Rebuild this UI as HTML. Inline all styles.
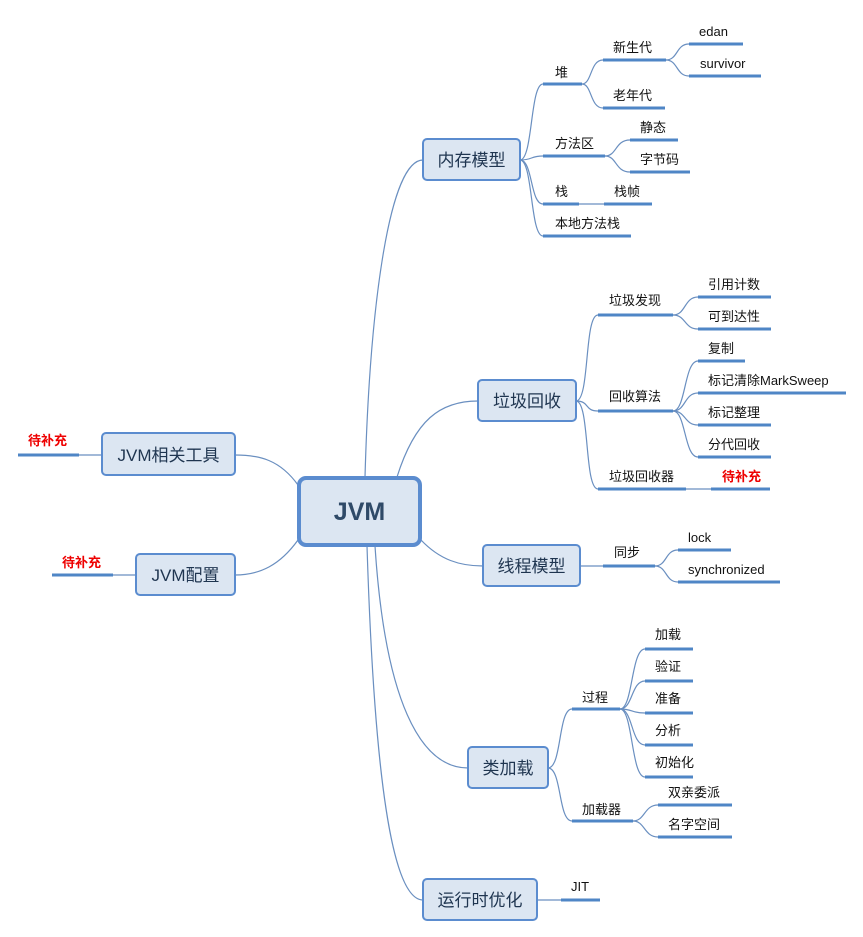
<!DOCTYPE html>
<html><head><meta charset="utf-8"><style>
body{margin:0;background:#fff;}
svg{display:block;font-family:"Liberation Sans","Noto Sans CJK SC",sans-serif;}
.c{fill:none;stroke:#6a8fc0;stroke-width:1.2}
.l{stroke:#4f86c6;stroke-width:3}
.t{font-size:13px;fill:#111}
.r{font-size:13px;fill:#e00;font-weight:bold}
.b{fill:#dce6f2;stroke:#5b8ccf;stroke-width:2}
.m{font-size:17px;fill:#1f3550;text-anchor:middle}
</style></head><body>
<svg width="863" height="937" viewBox="0 0 863 937">
<!-- main curves -->
<path class="c" d="M365 477 C370 300 390 160 423 160"/>
<path class="c" d="M397 477 C415 420 440 401 478 401"/>
<path class="c" d="M421 540 C440 560 460 566 483 566"/>
<path class="c" d="M375 546 C385 700 420 768 468 768"/>
<path class="c" d="M367 546 C375 800 395 900 423 900"/>
<path class="c" d="M298 485 C280 460 260 455 235 455"/>
<path class="c" d="M298 540 C280 565 260 575 235 575"/>
<path class="c" d="M102 455 L79 455"/>
<path class="c" d="M136 575 L113 575"/>
<!-- memory -->
<path class="c" d="M520 160 C533 160 530 84 543 84"/>
<path class="c" d="M520 160 C533 160 530 156 543 156"/>
<path class="c" d="M520 160 C533 160 530 204 543 204"/>
<path class="c" d="M520 160 C533 160 530 236 543 236"/>
<path class="c" d="M582 84 C592 84 590 60 603 60"/>
<path class="c" d="M582 84 C592 84 590 108 603 108"/>
<path class="c" d="M666 60 C678 60 676 44 689 44"/>
<path class="c" d="M666 60 C678 60 676 76 689 76"/>
<path class="c" d="M605 156 C617 156 615 140 630 140"/>
<path class="c" d="M605 156 C617 156 615 172 630 172"/>
<path class="c" d="M579 204 L604 204"/>
<!-- gc -->
<path class="c" d="M576 401 C590 401 584 315 598 315"/>
<path class="c" d="M576 401 C590 401 584 411 598 411"/>
<path class="c" d="M576 401 C590 401 584 489 598 489"/>
<path class="c" d="M673 315 C686 315 684 297 698 297"/>
<path class="c" d="M673 315 C686 315 684 329 698 329"/>
<path class="c" d="M673 411 C686 411 684 361 698 361"/>
<path class="c" d="M673 411 C686 411 684 393 698 393"/>
<path class="c" d="M673 411 C686 411 684 425 698 425"/>
<path class="c" d="M673 411 C686 411 684 457 698 457"/>
<path class="c" d="M686 489 L711 489"/>
<!-- thread -->
<path class="c" d="M580 566 L603 566"/>
<path class="c" d="M655 566 C667 566 665 550 678 550"/>
<path class="c" d="M655 566 C667 566 665 582 678 582"/>
<!-- class load -->
<path class="c" d="M548 768 C562 768 558 709 572 709"/>
<path class="c" d="M548 768 C562 768 558 821 572 821"/>
<path class="c" d="M620 709 C633 709 631 649 645 649"/>
<path class="c" d="M620 709 C633 709 631 681 645 681"/>
<path class="c" d="M620 709 C633 709 631 713 645 713"/>
<path class="c" d="M620 709 C633 709 631 745 645 745"/>
<path class="c" d="M620 709 C633 709 631 777 645 777"/>
<path class="c" d="M633 821 C645 821 644 805 658 805"/>
<path class="c" d="M633 821 C645 821 644 837 658 837"/>
<path class="c" d="M537 900 L561 900"/>

<!-- leaf lines -->
<g class="l">
<line x1="543" y1="84" x2="582" y2="84"/>
<line x1="603" y1="60" x2="666" y2="60"/>
<line x1="689" y1="44" x2="743" y2="44"/>
<line x1="689" y1="76" x2="761" y2="76"/>
<line x1="603" y1="108" x2="665" y2="108"/>
<line x1="543" y1="156" x2="605" y2="156"/>
<line x1="630" y1="140" x2="678" y2="140"/>
<line x1="630" y1="172" x2="690" y2="172"/>
<line x1="543" y1="204" x2="579" y2="204"/>
<line x1="604" y1="204" x2="652" y2="204"/>
<line x1="543" y1="236" x2="631" y2="236"/>
<line x1="598" y1="315" x2="673" y2="315"/>
<line x1="698" y1="297" x2="771" y2="297"/>
<line x1="698" y1="329" x2="771" y2="329"/>
<line x1="598" y1="411" x2="673" y2="411"/>
<line x1="698" y1="361" x2="745" y2="361"/>
<line x1="698" y1="393" x2="846" y2="393"/>
<line x1="698" y1="425" x2="771" y2="425"/>
<line x1="698" y1="457" x2="771" y2="457"/>
<line x1="598" y1="489" x2="686" y2="489"/>
<line x1="711" y1="489" x2="770" y2="489"/>
<line x1="603" y1="566" x2="655" y2="566"/>
<line x1="678" y1="550" x2="731" y2="550"/>
<line x1="678" y1="582" x2="780" y2="582"/>
<line x1="572" y1="709" x2="620" y2="709"/>
<line x1="645" y1="649" x2="693" y2="649"/>
<line x1="645" y1="681" x2="693" y2="681"/>
<line x1="645" y1="713" x2="693" y2="713"/>
<line x1="645" y1="745" x2="693" y2="745"/>
<line x1="645" y1="777" x2="693" y2="777"/>
<line x1="572" y1="821" x2="633" y2="821"/>
<line x1="658" y1="805" x2="732" y2="805"/>
<line x1="658" y1="837" x2="732" y2="837"/>
<line x1="561" y1="900" x2="600" y2="900"/>
<line x1="18" y1="455" x2="79" y2="455"/>
<line x1="52" y1="575" x2="113" y2="575"/>
</g>

<!-- leaf text -->
<g class="t">
<text x="555" y="77">堆</text>
<text x="613" y="52">新生代</text>
<text x="699" y="36">edan</text>
<text x="700" y="68">survivor</text>
<text x="613" y="100">老年代</text>
<text x="555" y="148">方法区</text>
<text x="640" y="132">静态</text>
<text x="640" y="164">字节码</text>
<text x="555" y="196">栈</text>
<text x="614" y="196">栈帧</text>
<text x="555" y="228">本地方法栈</text>
<text x="609" y="305">垃圾发现</text>
<text x="708" y="289">引用计数</text>
<text x="708" y="321">可到达性</text>
<text x="609" y="401">回收算法</text>
<text x="708" y="353">复制</text>
<text x="708" y="385">标记清除MarkSweep</text>
<text x="708" y="417">标记整理</text>
<text x="708" y="449">分代回收</text>
<text x="609" y="481">垃圾回收器</text>
<text x="614" y="557">同步</text>
<text x="688" y="542">lock</text>
<text x="688" y="574">synchronized</text>
<text x="582" y="702">过程</text>
<text x="655" y="639">加载</text>
<text x="655" y="671">验证</text>
<text x="655" y="703">准备</text>
<text x="655" y="735">分析</text>
<text x="655" y="767">初始化</text>
<text x="582" y="814">加载器</text>
<text x="668" y="797">双亲委派</text>
<text x="668" y="829">名字空间</text>
<text x="571" y="891">JIT</text>
</g>
<text class="r" x="722" y="481">待补充</text>
<text class="r" x="28" y="445">待补充</text>
<text class="r" x="62" y="567">待补充</text>

<!-- boxes -->
<rect class="b" x="423" y="139" width="97" height="41" rx="4"/>
<text class="m" x="471.5" y="166">内存模型</text>
<rect class="b" x="478" y="380" width="98" height="41" rx="4"/>
<text class="m" x="527" y="407">垃圾回收</text>
<rect class="b" x="483" y="545" width="97" height="41" rx="4"/>
<text class="m" x="531.5" y="572">线程模型</text>
<rect class="b" x="468" y="747" width="80" height="41" rx="4"/>
<text class="m" x="508" y="774">类加载</text>
<rect class="b" x="423" y="879" width="114" height="41" rx="4"/>
<text class="m" x="480" y="906">运行时优化</text>
<rect class="b" x="102" y="433" width="133" height="42" rx="4"/>
<text class="m" x="168.5" y="461">JVM相关工具</text>
<rect class="b" x="136" y="554" width="99" height="41" rx="4"/>
<text class="m" x="185.5" y="581">JVM配置</text>
<rect x="299" y="478" width="121" height="67" rx="7" fill="#dce6f2" stroke="#5b8ccf" stroke-width="4"/>
<text x="359.5" y="520" text-anchor="middle" font-size="25" font-weight="bold" fill="#2f4a68">JVM</text>
</svg>
</body></html>
